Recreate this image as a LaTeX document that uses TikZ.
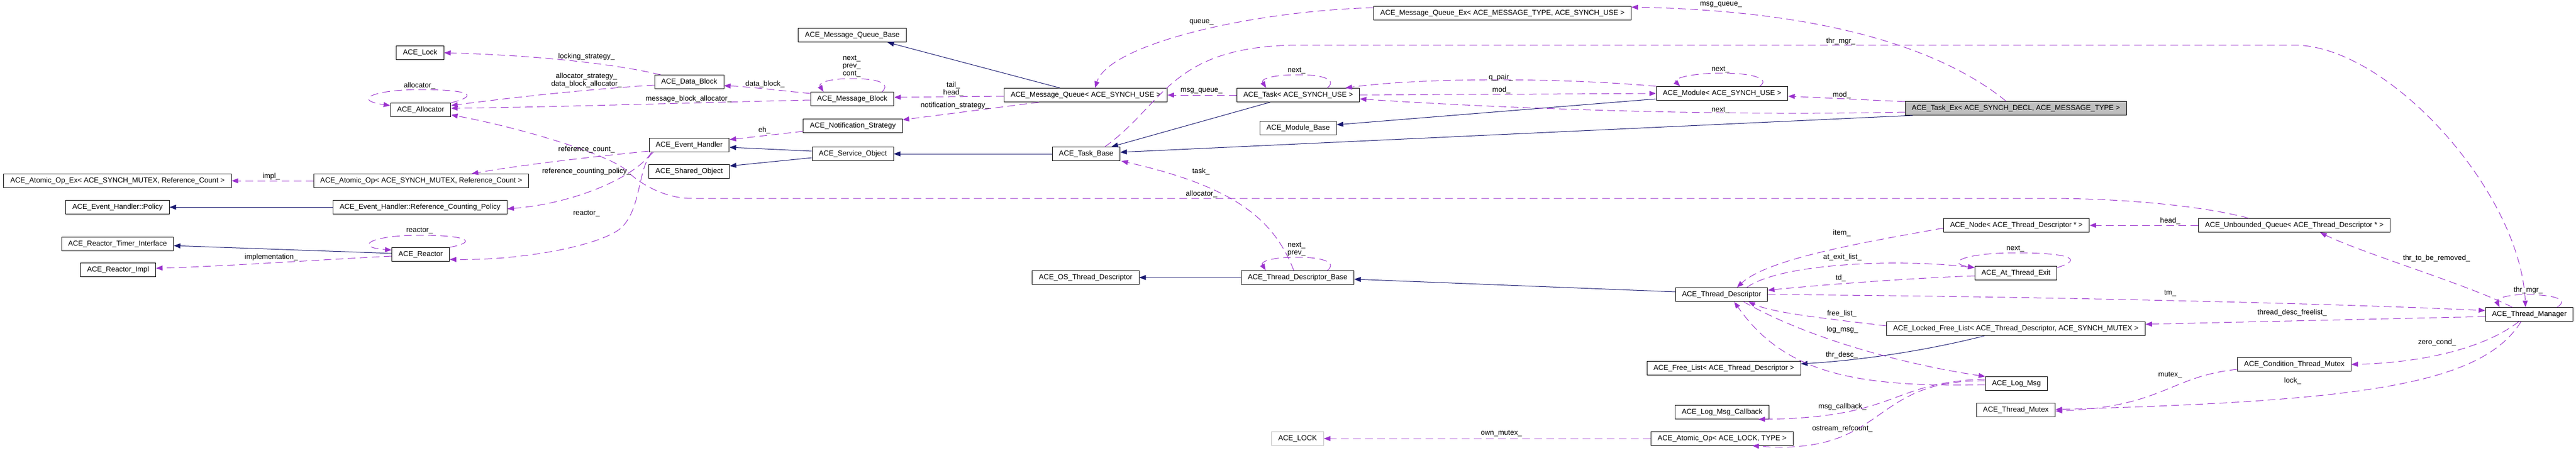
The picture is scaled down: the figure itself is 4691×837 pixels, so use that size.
\documentclass[tikz,border=0pt]{standalone}
\usepackage{fontspec}
\setmainfont{Liberation Sans}
\usetikzlibrary{arrows.meta}
\definecolor{inhcol}{HTML}{191970}
\definecolor{memcol}{HTML}{9A32CD}
\definecolor{boxgray}{HTML}{BFBFBF}
\begin{document}
\begin{tikzpicture}[x=1bp, y=-1bp,
        klass/.style={draw, line width=1bp, minimum height=25bp, inner xsep=12bp, inner ysep=0pt, font=\fontsize{13.2bp}{14bp}\selectfont},
        focus/.style={klass, fill=boxgray},
        greybox/.style={klass, draw=boxgray},
        lbl/.style={inner sep=0pt, align=center, font=\fontsize{13.2bp}{14bp}\selectfont},
        inherit/.style={draw=inhcol, line width=1bp, -{Triangle[length=12bp, width=9bp]}},
        member/.style={draw=memcol, line width=1bp, dash pattern=on 14bp off 8bp, -{Triangle[length=12bp, width=9bp]}}]
        \useasboundingbox (0,0) rectangle (4691,837);

        \draw (214,329) node[klass] (atomicex) {ACE\_Atomic\_Op\_Ex< ACE\_SYNCH\_MUTEX, Reference\_Count >};
        \draw (214,377) node[klass] (policy) {ACE\_Event\_Handler::Policy};
        \draw (214,444) node[klass] (timerif) {ACE\_Reactor\_Timer\_Interface};
        \draw (215,491) node[klass] (reactorimpl) {ACE\_Reactor\_Impl};
        \draw (765,96) node[klass] (lock) {ACE\_Lock};
        \draw (766,200) node[klass] (allocator) {ACE\_Allocator};
        \draw (767,329) node[klass] (atomic) {ACE\_Atomic\_Op< ACE\_SYNCH\_MUTEX, Reference\_Count >};
        \draw (765,377) node[klass] (refpolicy) {ACE\_Event\_Handler::Reference\_Counting\_Policy};
        \draw (766,463) node[klass] (reactor) {ACE\_Reactor};
        \draw (1255,149) node[klass] (datablock) {ACE\_Data\_Block};
        \draw (1255,264) node[klass] (evhandler) {ACE\_Event\_Handler};
        \draw (1255,312) node[klass] (sharedobj) {ACE\_Shared\_Object};
        \draw (1552,64) node[klass] (mqbase) {ACE\_Message\_Queue\_Base};
        \draw (1552,180) node[klass] (msgblock) {ACE\_Message\_Block};
        \draw (1553,229) node[klass] (notify) {ACE\_Notification\_Strategy};
        \draw (1553,280) node[klass] (svcobj) {ACE\_Service\_Object};
        \draw (1977,173) node[klass] (mq) {ACE\_Message\_Queue< ACE\_SYNCH\_USE >};
        \draw (1978,280) node[klass] (taskbase) {ACE\_Task\_Base};
        \draw (1977,505) node[klass] (osthrdesc) {ACE\_OS\_Thread\_Descriptor};
        \draw (2364,173) node[klass] (task) {ACE\_Task< ACE\_SYNCH\_USE >};
        \draw (2364,233) node[klass] (modbase) {ACE\_Module\_Base};
        \draw (2363,505) node[klass] (thrdescbase) {ACE\_Thread\_Descriptor\_Base};
        \draw (2363,798) node[greybox] (lockt) {ACE\_LOCK};
        \draw (2736,24) node[klass] (mqex) {ACE\_Message\_Queue\_Ex< ACE\_MESSAGE\_TYPE, ACE\_SYNCH\_USE >};
        \draw (3136,170) node[klass] (module) {ACE\_Module< ACE\_SYNCH\_USE >};
        \draw (3135,536) node[klass] (thrdesc) {ACE\_Thread\_Descriptor};
        \draw (3139,670) node[klass] (freelist) {ACE\_Free\_List< ACE\_Thread\_Descriptor >};
        \draw (3136,750) node[klass] (callback) {ACE\_Log\_Msg\_Callback};
        \draw (3136,798) node[klass] (atomiclock) {ACE\_Atomic\_Op< ACE\_LOCK, TYPE >};
        \draw (3671,197) node[focus] (taskex) {ACE\_Task\_Ex< ACE\_SYNCH\_DECL, ACE\_MESSAGE\_TYPE >};
        \draw (3672,410) node[klass] (tdnode) {ACE\_Node< ACE\_Thread\_Descriptor * >};
        \draw (3671,497) node[klass] (atexit) {ACE\_At\_Thread\_Exit};
        \draw (3671,598) node[klass] (lockedfree) {ACE\_Locked\_Free\_List< ACE\_Thread\_Descriptor, ACE\_SYNCH\_MUTEX >};
        \draw (3672,698) node[klass] (logmsg) {ACE\_Log\_Msg};
        \draw (3671,746) node[klass] (thrmutex) {ACE\_Thread\_Mutex};
        \draw (4178,410) node[klass] (uqueue) {ACE\_Unbounded\_Queue< ACE\_Thread\_Descriptor * >};
        \draw (4178,663) node[klass] (condmutex) {ACE\_Condition\_Thread\_Mutex};
        \draw (4606,572) node[klass] (thrmgr) {ACE\_Thread\_Manager};

        \draw[inherit] (refpolicy.west) -- (policy.east);
        \draw[inherit] ([yshift=2bp]reactor.west) -- ([yshift=-3bp]timerif.east);
        \draw[inherit] ([xshift=-47bp]mq.north) -- ([xshift=64bp]mqbase.south);
        \draw[inherit] ([yshift=5bp]svcobj.west) -- ([yshift=-4bp]evhandler.east);
        \draw[inherit] ([yshift=-7bp]svcobj.west) -- ([yshift=10bp]sharedobj.east);
        \draw[inherit] (taskbase.west) -- (svcobj.east);
        \draw[inherit] ([xshift=-51bp]task.south) -- ([xshift=46bp]taskbase.north);
        \draw[inherit] ([xshift=14bp]taskex.south west) -- ([yshift=3bp]taskbase.east);
        \draw[inherit] ([yshift=-10bp]module.west) -- ([yshift=6bp]modbase.east);
        \draw[inherit] (thrdescbase.west) -- (osthrdesc.east);
        \draw[inherit] ([yshift=5bp]thrdesc.west) -- ([yshift=-3bp]thrdescbase.east);
        \draw[inherit] ([xshift=-57bp]lockedfree.south) .. controls (3520,635) and (3400,655) .. ([yshift=8bp]freelist.east);

        \draw[member] (allocator.north east) .. controls (880,172) and (845,163) .. (766,163) .. controls (680,163) and (640,182) .. ([yshift=-5bp]allocator.north west);
        \draw[member] (atomic.west) -- (atomicex.east);
        \draw[member] ([yshift=-3bp]reactor.west) .. controls (560,474) and (400,485) .. ([yshift=3bp]reactorimpl.east);
        \draw[member] (reactor.north east) .. controls (872,440) and (850,428) .. (766,428) .. controls (670,428) and (645,450) .. ([yshift=-5bp]reactor.north west);
        \draw[member] ([xshift=-52bp]datablock.north) .. controls (1100,112) and (950,100) .. (lock.east);
        \draw[member] ([yshift=-6bp]datablock.west) .. controls (1100,160) and (950,175) .. ([yshift=8bp]allocator.east);
        \draw[member] ([yshift=10bp]msgblock.west) .. controls (1420,165) and (1370,158) .. ([yshift=-7bp]datablock.east);
        \draw[member] ([xshift=-22bp]msgblock.north east) .. controls (1622,152) and (1600,143) .. (1552,143) .. controls (1505,143) and (1490,152) .. ([xshift=24bp]msgblock.north west);
        \draw[member] ([yshift=-2bp]msgblock.west) .. controls (1300,186) and (1000,195) .. ([yshift=3bp]allocator.east);
        \draw[member] ([yshift=-10bp]notify.west) -- ([yshift=10bp]evhandler.east);
        \draw[member] ([yshift=2bp]evhandler.south west) .. controls (1080,285) and (950,300) .. ([xshift=92bp]atomic.north);
        \draw[member] ([xshift=5bp]evhandler.south west) .. controls (1160,320) and (1050,370) .. ([yshift=-3bp]refpolicy.east);
        \draw[member] ([xshift=8bp]evhandler.south west) .. controls (1160,300) and (1170,385) .. (1127,418) .. controls (1085,448) and (950,474) .. ([yshift=4bp]reactor.south east);
        \draw[member] ([yshift=-2bp]mq.west) -- ([yshift=3bp]msgblock.east);
        \draw[member] ([xshift=-85bp]mq.south) -- ([yshift=11bp]notify.east);
        \draw[member] ([yshift=10bp]mqex.west) .. controls (2280,20) and (2020,80) .. ([xshift=17bp]mq.north);
        \draw[member] (task.west) -- (mq.east);
        \draw[member] ([xshift=-59bp]task.north east) .. controls (2435,145) and (2410,136) .. (2364,136) .. controls (2320,136) and (2295,143) .. ([xshift=54bp]task.north west);
        \draw[member] ([xshift=34bp]taskbase.north) .. controls (2120,190) and (2130,85) .. (2360,82) -- (4177,82) .. controls (4350,82) and (4590,350) .. ([xshift=-7bp]thrmgr.north);
        \draw[member] ([xshift=-7bp]thrdescbase.north) .. controls (2320,400) and (2250,340) .. ([xshift=2bp]taskbase.south east);
        \draw[member] ([xshift=-49bp]thrdescbase.north east) .. controls (2435,478) and (2410,468) .. (2363,468) .. controls (2315,468) and (2295,476) .. ([xshift=45bp]thrdescbase.north west);
        \draw[member] (module.north west) .. controls (2850,142) and (2600,140) .. ([xshift=86bp]task.north);
        \draw[member] (task.east) -- (module.west);
        \draw[member] ([xshift=-52bp]module.north east) .. controls (3225,143) and (3190,133) .. (3136,133) .. controls (3080,133) and (3045,143) .. ([xshift=44bp]module.north west);
        \draw[member] ([yshift=12bp]taskex.west) -- ([yshift=-5bp]module.east);
        \draw[member] ([yshift=-7bp]taskex.west) .. controls (3100,212) and (2700,195) .. ([yshift=-7bp]task.east);
        \draw[member] ([xshift=-18bp]taskex.north) .. controls (3550,100) and (3350,20) .. ([yshift=11bp]mqex.east);
        \draw[member] ([xshift=-83bp]uqueue.north) .. controls (4000,372) and (3850,361) .. (3732,361) -- (1260,361) .. controls (1210,361) and (1165,335) .. (1137,307) .. controls (1105,282) and (960,235) .. ([yshift=-9bp]allocator.east);
        \draw[member] (uqueue.west) -- (tdnode.east);
        \draw[member] ([yshift=-5bp]tdnode.west) .. controls (3400,440) and (3220,470) .. ([xshift=28bp]thrdesc.north);
        \draw[member] ([xshift=46bp]thrdesc.north) .. controls (3240,480) and (3450,470) .. ([yshift=-3bp]atexit.north west);
        \draw[member] ([yshift=-5bp]atexit.west) .. controls (3480,506) and (3320,518) .. ([yshift=8bp]thrdesc.east);
        \draw[member] ([yshift=-3bp]atexit.north east) .. controls (3800,470) and (3760,460) .. (3671,460) .. controls (3580,460) and (3540,478) .. ([yshift=-3bp]atexit.north west);
        \draw[member] (thrdesc.east) .. controls (3600,538) and (4200,550) .. ([yshift=7bp]thrmgr.west);
        \draw[member] ([yshift=5bp]lockedfree.west) .. controls (3330,580) and (3230,570) .. ([xshift=49bp]thrdesc.south);
        \draw[member] ([xshift=40bp]thrdesc.south) .. controls (3300,620) and (3480,665) .. (logmsg.north west);
        \draw[member] ([yshift=-2bp]logmsg.west) .. controls (3380,705) and (3250,680) .. ([xshift=23bp]thrdesc.south);
        \draw[member] ([yshift=8bp]logmsg.west) .. controls (3440,695) and (3460,760) .. ([xshift=66bp]callback.south);
        \draw[member] ([yshift=5bp]logmsg.west) .. controls (3400,690) and (3440,830) .. ([xshift=55bp]atomiclock.south);
        \draw[member] (atomiclock.west) -- (lockt.east);
        \draw[member] ([yshift=-4bp]thrmgr.west) -- ([yshift=8bp]lockedfree.east);
        \draw[member] ([xshift=-31bp]thrmgr.north) .. controls (4500,520) and (4300,460) .. ([xshift=47bp]uqueue.south);
        \draw[member] ([xshift=-30bp]thrmgr.north east) .. controls (4680,545) and (4650,536) .. (4600,536) .. controls (4560,536) and (4545,545) .. ([xshift=26bp]thrmgr.north west);
        \draw[member] ([xshift=-19bp]thrmgr.south) .. controls (4530,630) and (4420,660) .. (condmutex.east);
        \draw[member] ([xshift=-15bp]thrmgr.south) .. controls (4520,700) and (4300,730) .. ([yshift=1bp]thrmutex.east);
        \draw[member] ([yshift=-9bp]condmutex.west) .. controls (3950,685) and (3940,740) .. ([yshift=-2bp]thrmutex.east);

        \draw (764,156) node[lbl] (lallocself) {allocator\_};
        \draw (494,321) node[lbl] (limpl) {impl\_};
        \draw (494,468) node[lbl] (limplementation) {implementation\_};
        \draw (764,420) node[lbl] (lreactorself) {reactor\_};
        \draw (1068,103) node[lbl] (llocking) {locking\_strategy\_};
        \draw (1068,146) node[lbl] (lallocstrat) {allocator\_strategy\_\\data\_block\_allocator\_};
        \draw (1393,153) node[lbl] (ldatablock) {data\_block\_};
        \draw (1551,121) node[lbl] (lmsgself) {next\_\\prev\_\\cont\_};
        \draw (1254,180) node[lbl] (lmsgalloc) {message\_block\_allocator\_};
        \draw (1392,237) node[lbl] (leh) {eh\_};
        \draw (1068,272) node[lbl] (lrefcount) {reference\_count\_};
        \draw (1068,312) node[lbl] (lrefpolicy) {reference\_counting\_policy\_};
        \draw (1068,389) node[lbl] (lreactor) {reactor\_};
        \draw (1736,162) node[lbl] (ltailhead) {tail\_\\head\_};
        \draw (1739,192) node[lbl] (lnotify) {notification\_strategy\_};
        \draw (2188,40) node[lbl] (lqueue) {queue\_};
        \draw (2188,165) node[lbl] (lmsgqueue) {msg\_queue\_};
        \draw (2187,312) node[lbl] (ltask) {task\_};
        \draw (2188,353) node[lbl] (lallocator) {allocator\_};
        \draw (3352,75) node[lbl] (lthrmgr) {thr\_mgr\_};
        \draw (2361,129) node[lbl] (ltaskself) {next\_};
        \draw (2733,141) node[lbl] (lqpair) {q\_pair\_};
        \draw (2734,164) node[lbl] (lmod) {mod\_};
        \draw (3133,127) node[lbl] (lmodself) {next\_};
        \draw (3354,173) node[lbl] (lexmod) {mod\_};
        \draw (3133,201) node[lbl] (lexnext) {next\_};
        \draw (3134,8) node[lbl] (lexqueue) {msg\_queue\_};
        \draw (2361,454) node[lbl] (ldescself) {next\_\\prev\_};
        \draw (2734,789) node[lbl] (lownmutex) {own\_mutex\_};
        \draw (3354,424) node[lbl] (litem) {item\_};
        \draw (3355,468) node[lbl] (latexit) {at\_exit\_list\_};
        \draw (3670,453) node[lbl] (lexitself) {next\_};
        \draw (3352,506) node[lbl] (ltd) {td\_};
        \draw (3952,534) node[lbl] (ltm) {tm\_};
        \draw (3354,571) node[lbl] (lfreelist) {free\_list\_};
        \draw (3355,600) node[lbl] (llogmsg) {log\_msg\_};
        \draw (3354,646) node[lbl] (lthrdesc) {thr\_desc\_};
        \draw (3355,740) node[lbl] (lcallback) {msg\_callback\_};
        \draw (3355,780) node[lbl] (lostream) {ostream\_refcount\_};
        \draw (3952,402) node[lbl] (lhead) {head\_};
        \draw (4437,470) node[lbl] (lremoved) {thr\_to\_be\_removed\_};
        \draw (4604,528) node[lbl] (lmgrself) {thr\_mgr\_};
        \draw (4174,569) node[lbl] (lfreel) {thread\_desc\_freelist\_};
        \draw (4438,623) node[lbl] (lzero) {zero\_cond\_};
        \draw (3952,683) node[lbl] (lmutex) {mutex\_};
        \draw (4175,693) node[lbl] (llock) {lock\_};
\end{tikzpicture}
\end{document}
